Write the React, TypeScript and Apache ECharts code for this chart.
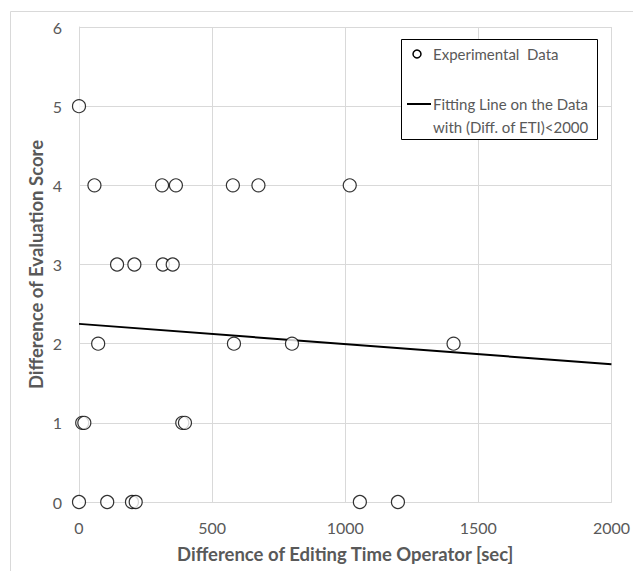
import React, { useEffect, useRef } from "react";
import * as echarts from "echarts";

const expX = [0, 58, 312, 364, 578, 674, 1017, 143, 208, 315, 352, 72, 582, 800, 1407, 12, 20, 388, 398, 0, 106, 199, 213, 1055, 1198];
const expY = [5, 4, 4, 4, 4, 4, 4, 3, 3, 3, 3, 2, 2, 2, 2, 1, 1, 1, 1, 0, 0, 0, 0, 0, 0];
const fitX = [0, 2000];
const fitY = [2.25, 1.74];
const xTicks = [0, 500, 1000, 1500, 2000];
const yTicks = [0, 1, 2, 3, 4, 5, 6];
const seriesNames = ["Experimental  Data", "Fitting Line on the Data", "with (Diff. of ETI)<2000"];

const FONT = "Lato, 'Noto Sans', sans-serif";
const TXT = "#595959";
const GRID = "#d9d9d9";

export default function App() {
  const ref = useRef<HTMLDivElement>(null);
  useEffect(() => {
    if (!ref.current) return;
    const chart = echarts.init(ref.current, null, { renderer: "svg" });
    chart.setOption({
      animation: false,
      backgroundColor: "#ffffff",
      grid: { left: 79, top: 27, right: 18, bottom: 69 },
      xAxis: {
        type: "value",
        min: xTicks[0],
        max: xTicks[xTicks.length - 1],
        interval: 500,
        name: "Difference of Editing Time Operator [sec]",
        nameLocation: "middle",
        nameGap: 42,
        nameTextStyle: { color: TXT, fontFamily: FONT, fontWeight: "bold", fontSize: 18.5 },
        axisLine: { show: true, lineStyle: { color: GRID } },
        axisTick: { show: false },
        axisLabel: { color: TXT, fontFamily: FONT, fontSize: 16, margin: 17, formatter: (v: number) => String(v) },
        splitLine: { show: true, lineStyle: { color: GRID } },
      },
      yAxis: {
        type: "value",
        min: yTicks[0],
        max: yTicks[yTicks.length - 1],
        interval: 1,
        name: "Difference of Evaluation Score",
        nameLocation: "middle",
        nameGap: 34,
        nameMoveOverlap: false,
        nameTextStyle: { color: TXT, fontFamily: FONT, fontWeight: "bold", fontSize: 18.5 },
        axisLine: { show: true, lineStyle: { color: GRID } },
        axisTick: { show: false },
        axisLabel: { color: TXT, fontFamily: FONT, fontSize: 16, margin: 17, formatter: (v: number) => String(v) },
        splitLine: { show: true, lineStyle: { color: GRID } },
      },
      graphic: [
        {
          type: "rect",
          shape: { x: 10.5, y: 11.5, width: 700, height: 700 },
          style: { fill: "none", stroke: GRID, lineWidth: 1 },
          silent: true,
          z: -10,
        },
        {
          type: "rect",
          shape: { x: 401.5, y: 39.5, width: 196, height: 100 },
          style: { fill: "#ffffff", stroke: "#000000", lineWidth: 1 },
          z: 50,
        },
        {
          type: "circle",
          shape: { cx: 417, cy: 54, r: 4 },
          style: { fill: "#ffffff", stroke: "#000000", lineWidth: 1.5 },
          z: 51,
        },
        {
          type: "text",
          x: 433,
          y: 54,
          style: { text: seriesNames[0], fill: TXT, font: `15px ${FONT}`, verticalAlign: "middle" },
          z: 51,
        },
        {
          type: "line",
          shape: { x1: 407, y1: 104, x2: 431, y2: 104 },
          style: { stroke: "#000000", lineWidth: 2 },
          z: 51,
        },
        {
          type: "text",
          x: 433,
          y: 104,
          style: { text: seriesNames[1], fill: TXT, font: `15px ${FONT}`, verticalAlign: "middle" },
          z: 51,
        },
        {
          type: "text",
          x: 433,
          y: 127,
          style: { text: seriesNames[2], fill: TXT, font: `15px ${FONT}`, verticalAlign: "middle" },
          z: 51,
        },
      ],
      series: [
        {
          type: "line",
          name: seriesNames[1],
          data: fitX.map((x, i) => [x, fitY[i]]),
          symbol: "none",
          lineStyle: { color: "#000000", width: 2 },
          z: 2,
        },
        {
          type: "scatter",
          name: seriesNames[0],
          data: expX.map((x, i) => [x, expY[i]]),
          symbol: "circle",
          symbolSize: 13,
          itemStyle: { color: "#ffffff", borderColor: "#000000", borderWidth: 1.2 },
          z: 3,
        },
      ],
    });
    return () => chart.dispose();
  }, []);
  return (
    <div
      ref={ref}
      style={{ position: "fixed", left: 0, top: 0, width: 633, height: 571 }}
    />
  );
}
